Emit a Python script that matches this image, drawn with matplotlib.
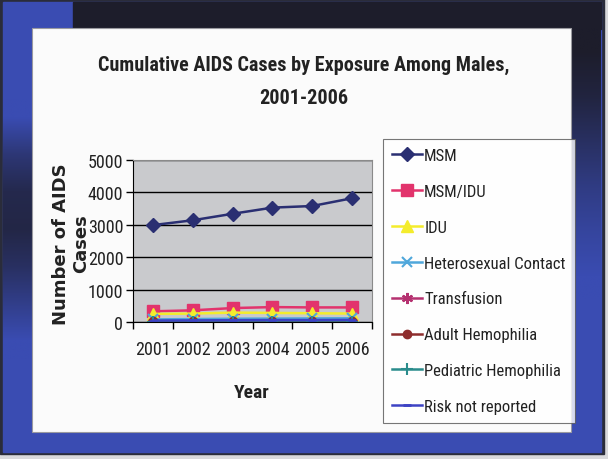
import numpy as np
import matplotlib
matplotlib.use('Agg')
import matplotlib.pyplot as plt
from matplotlib.patches import Rectangle
from matplotlib.colors import to_rgb

years = ['2001', '2002', '2003', '2004', '2005', '2006']
msm = [2990, 3140, 3340, 3530, 3580, 3820]
msm_idu = [330, 360, 430, 460, 450, 450]
idu = [250, 260, 290, 280, 270, 260]
hetero = [80, 90, 100, 105, 110, 115]
transfusion = [10, 10, 11, 11, 12, 12]
adult_hemo = [20, 20, 22, 23, 24, 25]
ped_hemo = [3, 3, 3, 3, 3, 3]
risk_nr = [45, 50, 55, 60, 60, 65]

NARROW = ['Roboto Condensed', 'DejaVu Sans']
W, H = 608, 460

fig = plt.figure(figsize=(W/100, H/100), dpi=100)

#%% slide background (photo of a slide)
bg = fig.add_axes([0, 0, 1, 1], zorder=0)
bg.set_xlim(0, W); bg.set_ylim(H, 0); bg.axis('off')
blue = np.array(to_rgb('#3a4cb2'))
dark = np.array(to_rgb('#1d1d2b'))
bg.add_patch(Rectangle((0, 0), W, H, color='#d9d9dc'))
bg.add_patch(Rectangle((0, 0), 604, 455, color='#2a2c3a'))
bg.add_patch(Rectangle((3, 3), 598, 450, color=blue))
bg.add_patch(Rectangle((73, 3), 528, 27, color=dark))

def grad(x0, x1, y0, y1, prof):
    # vertical blend dark->blue following prof (0..1 darkness)
    a = np.array(prof)[:, None, None]
    img = a*dark + (1-a)*blue
    img = np.repeat(img, 2, axis=1)
    bg.imshow(img, extent=(x0, x1, y1, y0), aspect='auto', interpolation='bilinear', zorder=1)

grad(571, 601, 29, 300, [1.0, 0.85, 0.6, 0.35, 0.15, 0.0])
grad(3, 32, 100, 360, [0.0, 0.45, 0.75, 0.8, 0.6, 0.3, 0.0])
bg.add_patch(Rectangle((32, 29), 539, 404, facecolor='#fbfbfb', edgecolor='#9a9aa0', lw=0.8, zorder=2))

#%% chart
ax = fig.add_axes([133/W, 1-323/H, 239/W, 162/H], zorder=2)
ax.set_facecolor('#c9cacd')
x = np.arange(len(years)) + 0.5

series = [
    ('MSM', msm, '#2a2f72', dict(marker='D', ms=7)),
    ('MSM/IDU', msm_idu, '#e2336c', dict(marker='s', ms=8)),
    ('IDU', idu, '#f4ec2c', dict(marker='^', ms=8)),
    ('Heterosexual Contact', hetero, '#4fa7db', dict(marker='x', ms=7, mew=1.5)),
    ('Transfusion', transfusion, '#b53170', dict(marker=(6, 2, 0), ms=8, mew=1.5)),
    ('Adult Hemophilia', adult_hemo, '#8e2d2d', dict(marker='o', ms=6)),
    ('Pediatric Hemophilia', ped_hemo, '#2a8c8c', dict(marker='+', ms=8, mew=1.5)),
    ('Risk not reported', risk_nr, '#3d43c4', dict(marker='_', ms=6, mew=2)),
]
for lab, vals, col, mk in series:
    ax.plot(x, vals, color=col, lw=1.8, label=lab, mec=col, mfc=col, **mk)

ax.set_xlim(0, 6)
ax.set_ylim(0, 5000)
ax.set_yticks(range(0, 5001, 1000))
ax.yaxis.grid(True, color='black', lw=1)
ax.set_axisbelow(True)
ax.set_xticks(range(7))
ax.set_xticklabels([])
ax.set_xticks(x, minor=True)
ax.set_xticklabels(years, minor=True, fontsize=13, family=NARROW, color='#222222')
ax.tick_params(axis='x', which='minor', length=0, pad=13)
ax.tick_params(axis='x', which='major', length=5, direction='out', width=1)
ax.tick_params(axis='y', length=5, direction='out', width=1, labelsize=13, pad=2, labelcolor='#222222')
for t in ax.get_yticklabels():
    t.set_family(NARROW)
for s in ['top', 'right']:
    ax.spines[s].set_color('#8a8a8a')
    ax.spines[s].set_linewidth(0.8)
for s in ['left', 'bottom']:
    ax.spines[s].set_color('black')

leg = ax.legend(loc='upper left', bbox_to_anchor=(383/W, 1-140/H), bbox_transform=fig.transFigure,
                borderaxespad=0, frameon=True, fancybox=False, edgecolor='#555555',
                prop={'family': NARROW, 'size': 12}, labelspacing=1.25, handlelength=1.8,
                handletextpad=0.12, borderpad=0.55, labelcolor='#222222')
leg.get_frame().set_linewidth(0.8)

#%% text
fig.text(304/W, 1-65/H, 'Cumulative AIDS Cases by Exposure Among Males,', ha='center', va='center',
         fontsize=14.5, fontweight='bold', family=NARROW, color='#222222')
fig.text(304/W, 1-98/H, '2001-2006', ha='center', va='center',
         fontsize=14.5, fontweight='bold', family=NARROW, color='#222222')
fig.text(71/W, 1-244/H, 'Number of AIDS\nCases', ha='center', va='center', rotation=90,
         fontsize=13, fontweight='bold', family='DejaVu Sans',
         linespacing=1.15, color='#222222')
fig.text(252/W, 1-393/H, 'Year', ha='center', va='center',
         fontsize=14, fontweight='bold', family=NARROW, color='#222222')

fig.savefig('out.png', dpi=100)
